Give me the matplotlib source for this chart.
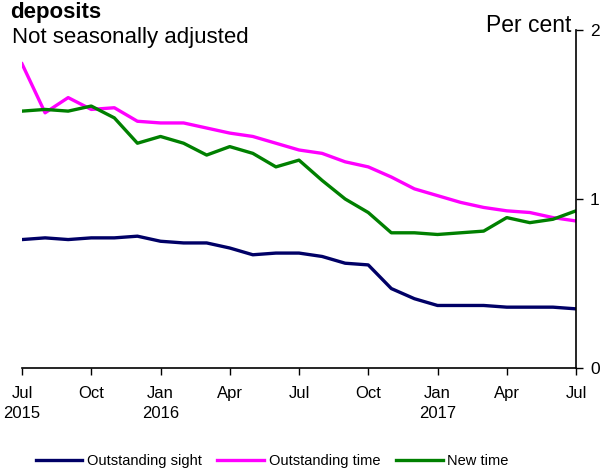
import numpy as np
import matplotlib
matplotlib.use("Agg")
import matplotlib.pyplot as plt

plt.rcParams['font.family'] = ['Liberation Sans', 'DejaVu Sans']

# monthly, Jul 2015 .. Jul 2017
months = np.arange(25)
outstanding_sight = [0.76, 0.77, 0.76, 0.77, 0.77, 0.78, 0.75, 0.74, 0.74, 0.71, 0.67, 0.68, 0.68,
                     0.66, 0.62, 0.61, 0.47, 0.41, 0.37, 0.37, 0.37, 0.36, 0.36, 0.36, 0.35]
outstanding_time = [1.80, 1.51, 1.60, 1.53, 1.54, 1.46, 1.45, 1.45, 1.42, 1.39, 1.37, 1.33, 1.29,
                    1.27, 1.22, 1.19, 1.13, 1.06, 1.02, 0.98, 0.95, 0.93, 0.92, 0.89, 0.87]
new_time = [1.52, 1.53, 1.52, 1.55, 1.48, 1.33, 1.37, 1.33, 1.26, 1.31, 1.27, 1.19, 1.23,
            1.11, 1.00, 0.92, 0.80, 0.80, 0.79, 0.80, 0.81, 0.89, 0.86, 0.88, 0.93]

tick_pos = [0, 3, 6, 9, 12, 15, 18, 21, 24]
tick_labels = ["Jul\n2015", "Oct", "Jan\n2016", "Apr", "Jul", "Oct", "Jan\n2017", "Apr", "Jul"]

fig = plt.figure(figsize=(6.04, 4.68), dpi=100)
ax = fig.add_axes([22 / 604, 1 - 368 / 468, (576 - 22) / 604, (368 - 30) / 468])

lw = 2.4
ax.plot(months, outstanding_sight, color="#000066", lw=lw, label="Outstanding sight")
ax.plot(months, outstanding_time, color="#ff00ff", lw=lw, label="Outstanding time")
ax.plot(months, new_time, color="#008000", lw=lw, label="New time")

ax.set_xlim(0, 24)
ax.set_ylim(0, 2)
ax.set_xticks(tick_pos)
ax.set_xticklabels(tick_labels, fontsize=12, linespacing=1.45)
ax.set_yticks([0, 1, 2])
ax.yaxis.tick_right()
ax.tick_params(axis="y", direction="out", length=5, width=1, labelsize=12.5, pad=5)
ax.tick_params(axis="x", direction="out", length=5, width=1, pad=8)

for s in ["top", "left"]:
    ax.spines[s].set_visible(False)
for s in ["right", "bottom"]:
    ax.spines[s].set_linewidth(1.2)

fig.text(10 / 604, 1 - 18 / 468, "deposits", fontsize=16, fontweight="bold", ha="left", va="baseline")
fig.text(12 / 604, 1 - 43 / 468, "Not seasonally adjusted", fontsize=16, ha="left", va="baseline")
fig.text(571 / 604, 1 - 32 / 468, "Per cent", fontsize=16.5, ha="right", va="baseline")

fig.legend(loc="center", bbox_to_anchor=(272 / 604, 1 - 461 / 468), ncol=3, frameon=False,
           fontsize=10.5, handlelength=3.2, handletextpad=0.3, columnspacing=1.1)

fig.savefig("out.png", dpi=100)
